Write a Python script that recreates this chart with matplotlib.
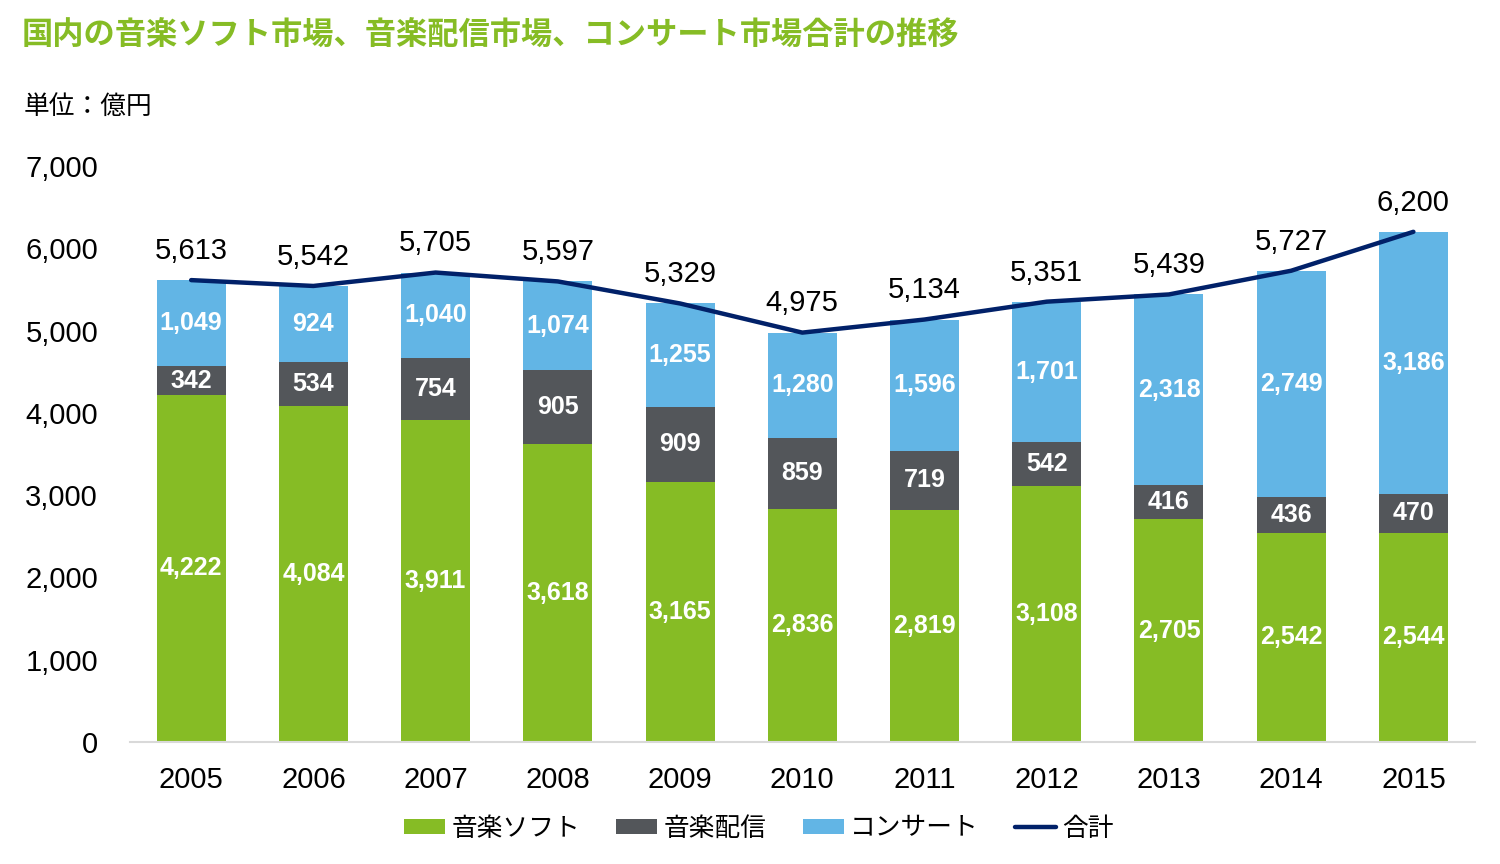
import numpy as np
import matplotlib
matplotlib.use("Agg")
import matplotlib.pyplot as plt

plt.rcParams['font.family'] = ['Liberation Sans', 'Noto Sans CJK JP', 'DejaVu Sans']

# data (億円)
years = ["2005", "2006", "2007", "2008", "2009", "2010",
         "2011", "2012", "2013", "2014", "2015"]
soft = [4222, 4084, 3911, 3618, 3165, 2836, 2819, 3108, 2705, 2542, 2544]
digital = [342, 534, 754, 905, 909, 859, 719, 542, 416, 436, 470]
concert = [1049, 924, 1040, 1074, 1255, 1280, 1596, 1701, 2318, 2749, 3186]
total = [5613, 5542, 5705, 5597, 5329, 4975, 5134, 5351, 5439, 5727, 6200]

series_names = ["音楽ソフト", "音楽配信", "コンサート", "合計"]
colors = ["#86BC25", "#53565A", "#62B5E5"]
line_color = "#012169"

fig = plt.figure(figsize=(15, 8.64), dpi=100)
ax = fig.add_axes([0.0867, 0.1412, 0.8963, 0.6667])

x = np.arange(len(years))
width = 0.565
bottom = np.zeros(len(years))
bars = []
for vals, col, name in zip([soft, digital, concert], colors, series_names[:3]):
    vals = np.array(vals)
    b = ax.bar(x, vals, width, bottom=bottom, color=col, label=name, zorder=2)
    bars.append(b)
    for xi, v, bt in zip(x, vals, bottom):
        ax.text(xi, bt + v / 2, f"{v:,}", ha="center", va="center",
                color="white", fontsize=18, fontweight="bold", zorder=4)
    bottom = bottom + vals

line, = ax.plot(x, total, color=line_color, linewidth=3.2, label=series_names[3],
                zorder=3, solid_capstyle="round")
for xi, t in zip(x, total):
    ax.annotate(f"{t:,}", (xi, t), xytext=(0, 21), textcoords="offset points",
                ha="center", va="center", fontsize=21, color="black")

ax.set_xlim(-0.5, 10.5)
ax.set_ylim(0, 7000)
ax.set_yticks(np.arange(0, 7001, 1000))
ax.set_yticklabels([f"{v:,}" for v in range(0, 7001, 1000)])
ax.set_xticks(x)
ax.set_xticklabels(years)
ax.tick_params(axis="y", length=0, pad=23, labelsize=21)
ax.tick_params(axis="x", length=0, pad=17, labelsize=21)
for s in ["top", "right", "left"]:
    ax.spines[s].set_visible(False)
ax.spines["bottom"].set_color("#D9D9D9")
ax.spines["bottom"].set_linewidth(1.5)

fig.text(0.0147, 0.958, "国内の音楽ソフト市場、音楽配信市場、コンサート市場合計の推移",
         fontsize=22.5, fontweight="bold", color="#86BC25", va="center", ha="left")
fig.text(0.016, 0.876, "単位：億円", fontsize=18.5, color="black", va="center", ha="left")

fig.legend(handles=bars + [line], labels=series_names, loc="center",
           bbox_to_anchor=(0.506, 0.041), ncol=4, frameon=False, fontsize=18.5,
           handlelength=1.6, handleheight=0.55, handletextpad=0.25,
           columnspacing=1.4)

fig.savefig("out.png", dpi=100)
